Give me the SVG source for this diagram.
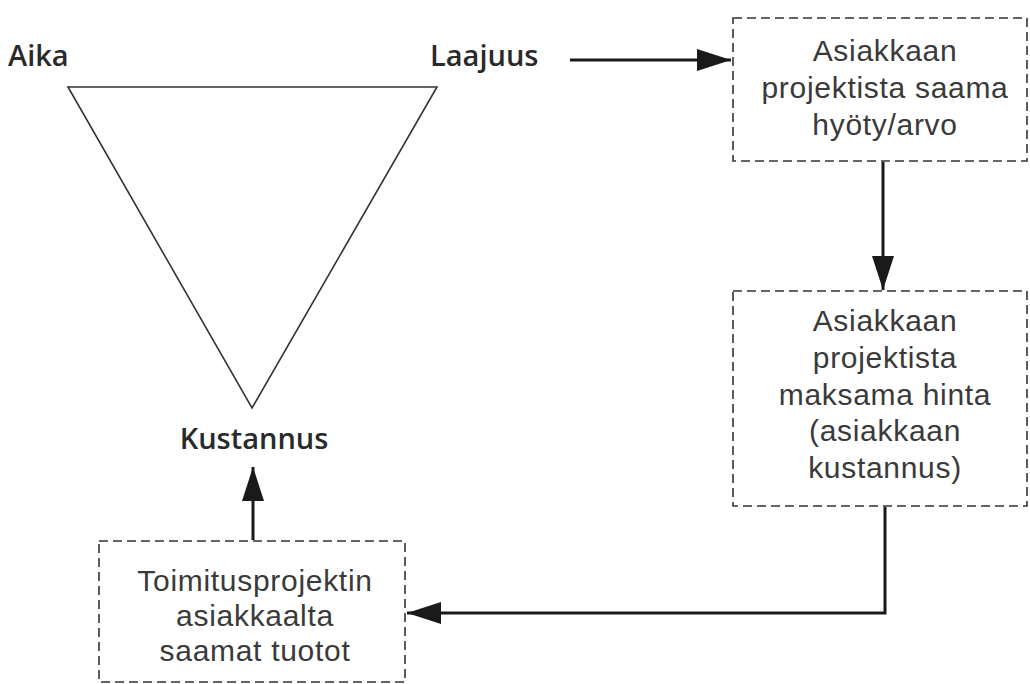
<svg xmlns="http://www.w3.org/2000/svg" width="1030" height="684" viewBox="0 0 1030 684">
<style>
.lbl{font-family:"Open Sans","Liberation Sans",sans-serif;font-size:29px;font-weight:600;fill:#2a2a2a}
.txt{font-family:"Liberation Sans",Arial,sans-serif;font-size:30px;letter-spacing:0.7px;fill:#3a3a3a;text-anchor:middle}
.box{fill:#fff;stroke:#333;stroke-width:1.6;stroke-dasharray:9 5}
.con{fill:none;stroke:#1a1a1a;stroke-width:3}
</style>
<defs>
<marker id="ah" viewBox="0 0 34 22" refX="34" refY="11" markerWidth="34" markerHeight="22" markerUnits="userSpaceOnUse" orient="auto">
<path d="M0,0 L34,11 L0,22 Z" fill="#1a1a1a"/>
</marker>
</defs>
<rect width="1030" height="684" fill="#fff"/>
<g id="triangle">
<polygon points="68,87 437,87 252,408" fill="none" stroke="#333" stroke-width="1.6"/>
<text class="lbl" x="8" y="66">Aika</text>
<text class="lbl" x="430" y="66">Laajuus</text>
<text class="lbl" x="254" y="449" text-anchor="middle">Kustannus</text>
</g>
<g id="box1">
<rect class="box" x="733" y="18" width="294" height="143"/>
<text class="txt" x="885" y="61">Asiakkaan</text>
<text class="txt" x="885" y="98">projektista saama</text>
<text class="txt" x="885" y="135">hyöty/arvo</text>
</g>
<g id="box2">
<rect class="box" x="733" y="291" width="294" height="215"/>
<text class="txt" x="885" y="331">Asiakkaan</text>
<text class="txt" x="885" y="368">projektista</text>
<text class="txt" x="885" y="405">maksama hinta</text>
<text class="txt" x="885" y="441">(asiakkaan</text>
<text class="txt" x="885" y="478">kustannus)</text>
</g>
<g id="box3">
<rect class="box" x="99" y="541" width="306" height="141"/>
<text class="txt" x="255" y="591">Toimitusprojektin</text>
<text class="txt" x="255" y="626">asiakkaalta</text>
<text class="txt" x="255" y="661">saamat tuotot</text>
</g>
<g id="connectors">
<path class="con" d="M570,60 H731" marker-end="url(#ah)"/>
<path class="con" d="M883,162 V290" marker-end="url(#ah)"/>
<path class="con" d="M885,507 V613 H407" marker-end="url(#ah)"/>
<path class="con" d="M253,540 V467" marker-end="url(#ah)"/>
</g>
</svg>
